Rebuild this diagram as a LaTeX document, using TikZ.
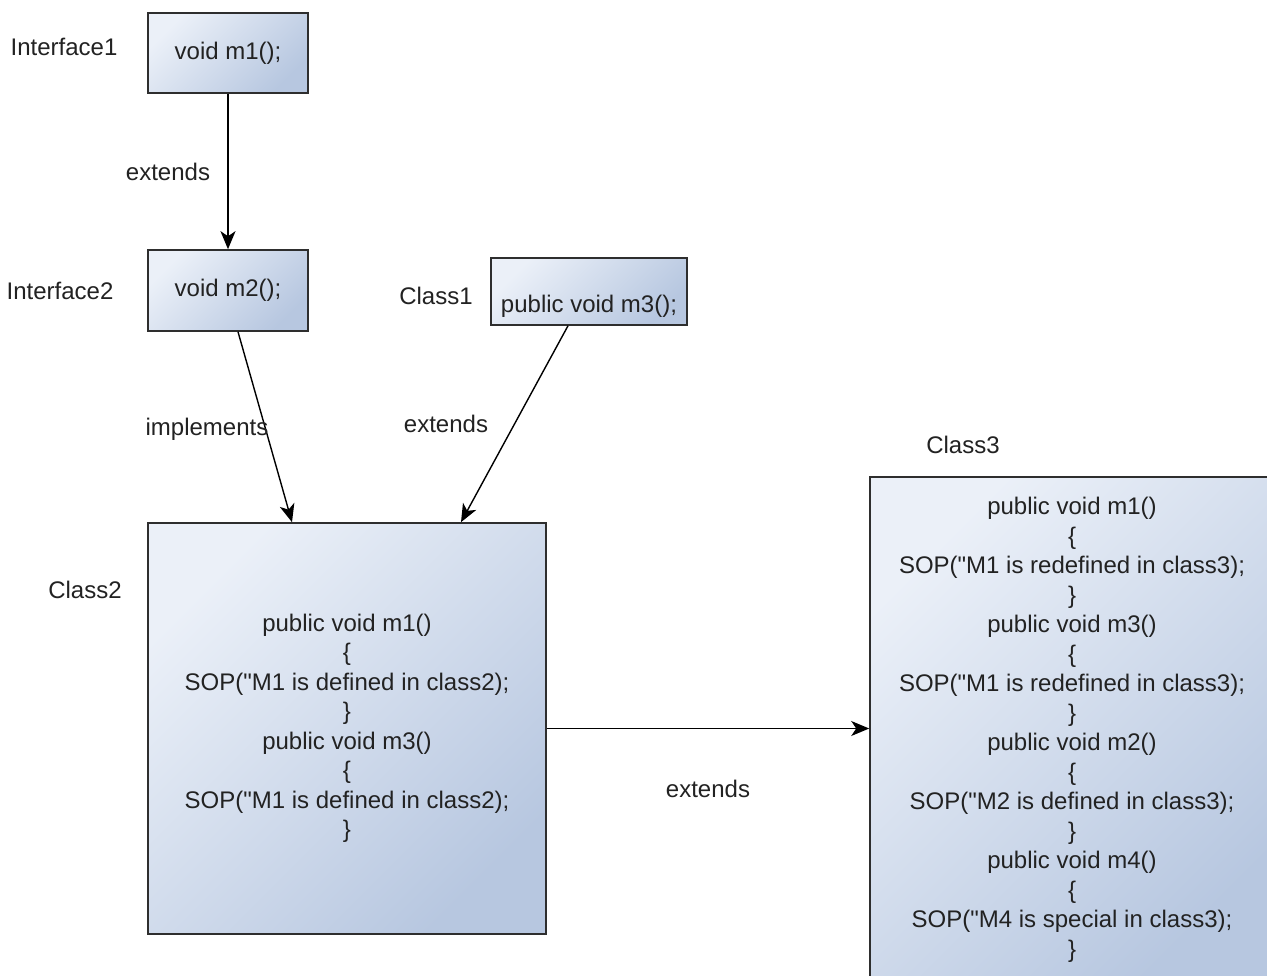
\documentclass[tikz,border=0pt]{standalone}
\usepackage{fontspec}
\setmainfont{Liberation Sans}
\usetikzlibrary{arrows.meta}

\definecolor{boxlight}{HTML}{EBF0F8}
\definecolor{boxdark}{HTML}{B7C7E0}
\definecolor{ink}{HTML}{222222}
\definecolor{edge}{HTML}{2E2E2E}

% straight double quote
\newcommand{\dq}{\textquotedbl}

\tikzset{
  every node/.style={font=\fontsize{24}{29.5}\selectfont, text=ink},
  umlbox/.style={draw=edge, line width=1.6pt, top color=boxlight,
    bottom color=boxdark, shading angle=45, inner sep=0pt, align=center},
  tag/.style={inner sep=0pt},
  link/.style={draw=black, line width=1.4pt,
    -{Stealth[length=18pt,width=15pt,inset=5pt]}},
}

\begin{document}
\begin{tikzpicture}[x=1pt,y=-1pt]
  \useasboundingbox (0,0) rectangle (1267,976);
  \fill[white] (0,0) rectangle (1267,976);
  \clip (0,0) rectangle (1267,976);

  % interfaces
  \node[umlbox, minimum width=160pt, minimum height=80pt] (if1) at (228,53) {void m1();};
  \node[umlbox, minimum width=160pt, minimum height=81pt] (if2) at (228,290.5) {void m2();};
  \node[tag] (if1name) at (64,47) {Interface1};
  \node[tag] (if2name) at (60,291) {Interface2};

  % Class1
  \node[umlbox, minimum width=196pt, minimum height=67pt] (c1) at (589,291.5)
    {\raisebox{-21pt}[0pt][0pt]{public void m3();}};
  \node[tag] (c1name) at (436,296) {Class1};

  % Class2
  \node[umlbox, minimum width=398pt, minimum height=411pt] (c2) at (347,728.5)
    {public void m1()\\ \{\\ SOP(\dq M1 is defined in class2);\\ \}\\
     public void m3()\\ \{\\ SOP(\dq M1 is defined in class2);\\ \}};
  \node[tag] (c2name) at (85,590) {Class2};

  % Class3
  \node[umlbox, minimum width=404pt, minimum height=506pt] (c3) at (1072,730)
    {public void m1()\\ \{\\ SOP(\dq M1 is redefined in class3);\\ \}\\
     public void m3()\\ \{\\ SOP(\dq M1 is redefined in class3);\\ \}\\
     public void m2()\\ \{\\ SOP(\dq M2 is defined in class3);\\ \}\\
     public void m4()\\ \{\\ SOP(\dq M4 is special in class3);\\ \}};
  \node[tag] (c3name) at (963,445) {Class3};

  % relations
  \draw[link] (if1.south) -- (if2.north);
  \node[tag] (lbl1) at (168,172) {extends};

  \draw[link] ([xshift=10pt]if2.south) -- ([xshift=-55pt]c2.north);
  \node[tag] (lbl2) at (207,429) {implements};

  \draw[link] ([xshift=-21pt]c1.south) -- ([xshift=114pt]c2.north);
  \node[tag] (lbl3) at (446,424) {extends};

  \draw[link] (c2.east) -- (c2.east -| c3.west);
  \node[tag] (lbl4) at (708,789) {extends};
\end{tikzpicture}
\end{document}
